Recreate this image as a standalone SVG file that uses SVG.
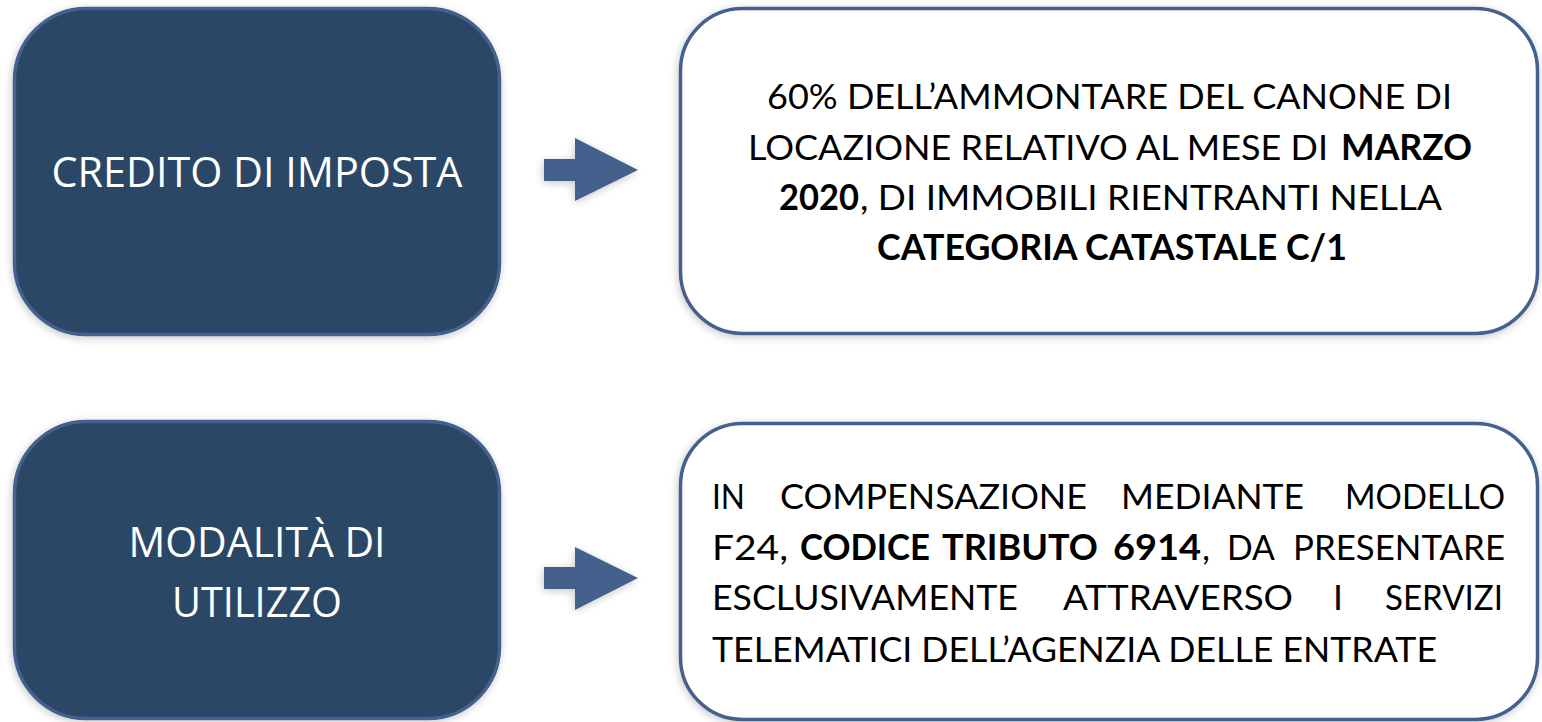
<svg xmlns="http://www.w3.org/2000/svg" width="1542" height="722" viewBox="0 0 1542 722">
<defs>
<filter id="sh" x="-10%" y="-10%" width="120%" height="120%">
<feGaussianBlur in="SourceAlpha" stdDeviation="4"/>
<feOffset dx="-1" dy="2" result="b"/>
<feComponentTransfer><feFuncA type="linear" slope="0.22"/></feComponentTransfer>
<feMerge><feMergeNode/><feMergeNode in="SourceGraphic"/></feMerge>
</filter>
<style>
.dark{fill:#2b4766;stroke:#445f8e;stroke-width:3.5}
.light{fill:#ffffff;stroke:#445f8e;stroke-width:3.5}
.arrow{fill:#44608d}
.wt{font-family:"Open Sans","Liberation Sans",sans-serif;font-size:42px;fill:#ffffff;text-anchor:middle}
.bt{font-family:Lato,"Liberation Sans",sans-serif;font-size:35.5px;fill:#000000}
.b{font-weight:bold}
</style>
</defs>
<rect width="1542" height="722" fill="#ffffff"/>

<g id="node-credito">
<rect class="dark" x="14.5" y="8.5" width="485" height="326" rx="72" filter="url(#sh)"/>
<text class="wt" x="257" y="187" textLength="411" lengthAdjust="spacingAndGlyphs">CREDITO DI IMPOSTA</text>
</g>

<g id="node-credito-desc">
<rect class="light" x="680.5" y="8.5" width="857" height="325" rx="62" filter="url(#sh)"/>
<text class="bt" x="767" y="109" textLength="685" lengthAdjust="spacingAndGlyphs">60% DELL’AMMONTARE DEL CANONE DI</text>
<text class="bt" x="748" y="160" textLength="580" lengthAdjust="spacingAndGlyphs">LOCAZIONE RELATIVO AL MESE DI</text>
<text class="bt b" x="1341" y="160" textLength="131" lengthAdjust="spacingAndGlyphs">MARZO</text>
<text class="bt b" x="779" y="210" textLength="80" lengthAdjust="spacingAndGlyphs">2020</text>
<text class="bt" x="860" y="210" textLength="582" lengthAdjust="spacingAndGlyphs">, DI IMMOBILI RIENTRANTI NELLA</text>
<text class="bt b" x="877" y="260" textLength="470" lengthAdjust="spacingAndGlyphs">CATEGORIA CATASTALE C/1</text>
</g>

<g id="node-modalita">
<rect class="dark" x="14.5" y="421.5" width="485" height="297" rx="72" filter="url(#sh)"/>
<text class="wt" x="257" y="557" textLength="257" lengthAdjust="spacingAndGlyphs">MODALITÀ DI</text>
<text class="wt" x="257" y="617" textLength="170" lengthAdjust="spacingAndGlyphs">UTILIZZO</text>
</g>

<g id="node-modalita-desc">
<rect class="light" x="680.5" y="423.5" width="857" height="296" rx="62" filter="url(#sh)"/>
<text class="bt" x="712" y="509" textLength="33" lengthAdjust="spacingAndGlyphs">IN</text>
<text class="bt" x="780" y="509" textLength="307" lengthAdjust="spacingAndGlyphs">COMPENSAZIONE</text>
<text class="bt" x="1121" y="509" textLength="183" lengthAdjust="spacingAndGlyphs">MEDIANTE</text>
<text class="bt" x="1345" y="509" textLength="160" lengthAdjust="spacingAndGlyphs">MODELLO</text>

<text class="bt" x="712" y="560" textLength="76" lengthAdjust="spacingAndGlyphs">F24,</text>
<text class="bt b" x="800" y="560" textLength="130" lengthAdjust="spacingAndGlyphs">CODICE</text>
<text class="bt b" x="942" y="560" textLength="156" lengthAdjust="spacingAndGlyphs">TRIBUTO</text>
<text class="bt b" x="1113" y="560" textLength="88" lengthAdjust="spacingAndGlyphs">6914</text>
<text class="bt" x="1202" y="560" textLength="8" lengthAdjust="spacingAndGlyphs">,</text>
<text class="bt" x="1227" y="560" textLength="48" lengthAdjust="spacingAndGlyphs">DA</text>
<text class="bt" x="1293" y="560" textLength="212" lengthAdjust="spacingAndGlyphs">PRESENTARE</text>

<text class="bt" x="712" y="610" textLength="306" lengthAdjust="spacingAndGlyphs">ESCLUSIVAMENTE</text>
<text class="bt" x="1063" y="610" textLength="230" lengthAdjust="spacingAndGlyphs">ATTRAVERSO</text>
<text class="bt" x="1333" y="610" textLength="10" lengthAdjust="spacingAndGlyphs">I</text>
<text class="bt" x="1385" y="610" textLength="118" lengthAdjust="spacingAndGlyphs">SERVIZI</text>

<text class="bt" x="712" y="662" textLength="725" lengthAdjust="spacingAndGlyphs">TELEMATICI DELL’AGENZIA DELLE ENTRATE</text>
</g>

<g id="connectors">
<polygon class="arrow" filter="url(#sh)" points="544,159 575,159 575,138 638,170 575,201 575,181 544,181"/>
<polygon class="arrow" filter="url(#sh)" points="544,567 575,567 575,547 638,578 575,610 575,589 544,589"/>
</g>
</svg>
